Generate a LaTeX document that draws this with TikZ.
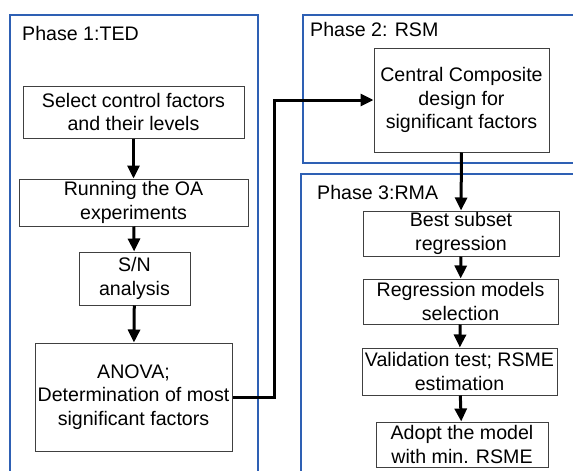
\documentclass[tikz,border=0pt]{standalone}
\usepackage{fontspec}
\setmainfont{Liberation Sans}
\usetikzlibrary{arrows.meta}
\definecolor{phaseblue}{RGB}{46,96,180}
\begin{document}
\begin{tikzpicture}[x=1pt,y=-1pt,
  frame/.style={draw=phaseblue,line width=2pt},
  stepbox/.style={draw=black!75,line width=1pt,align=center,inner sep=0pt,
    font=\fontsize{19.6}{23.5}\selectfont},
  flow/.style={line width=3pt,-{Triangle[length=13pt,width=12pt]}},
  title/.style={anchor=base west,inner sep=0pt,font=\fontsize{19.6}{23.5}\selectfont}]
\useasboundingbox (0,0) rectangle (573,471);
\clip (0,0) rectangle (573,471);
\fill[white] (0,0) rectangle (573,471);

% phase frames
\draw[frame] (10,15) rectangle (258,490);
\draw[frame] (303,15) rectangle (590,163);
\draw[frame] (301,174) rectangle (590,490);

\node[title] (t1) at (22,40) {Phase 1:TED};
\node[title] (t2) at (310,36) {Phase 2: RSM};
\node[title] (t3) at (317,199) {Phase 3:RMA};

% phase 1 steps
\node[stepbox,minimum width=221pt,minimum height=52pt] (n1) at (133.5,112)
  {Select control factors\\and their levels};
\node[stepbox,minimum width=229pt,minimum height=47pt] (n2) at (133.5,202.5)
  {Running the OA\\experiments};
\node[stepbox,minimum width=111pt,minimum height=53pt] (n3) at (134.5,278.5)
  {S/N\\analysis};
\node[stepbox,minimum width=197pt,minimum height=108pt] (n4) at (133.5,397)
  {ANOVA;\\Determination of most\\significant factors};

% phase 2 step
\node[stepbox,minimum width=175pt,minimum height=104pt] (n5) at (461.5,100)
  {Central Composite\\design for\\significant factors};

% phase 3 steps
\node[stepbox,minimum width=196pt,minimum height=45pt] (n6) at (461,233.5)
  {Best subset\\regression};
\node[stepbox,minimum width=195pt,minimum height=45pt] (n7) at (460.5,301.5)
  {Regression models\\selection};
\node[stepbox,minimum width=195pt,minimum height=47pt] (n8) at (459.5,371.5)
  {Validation test; RSME\\estimation};
\node[stepbox,minimum width=172pt,minimum height=45pt] (n9) at (462,444.5)
  {Adopt the model\\with min. RSME};

% connectors
\draw[flow] (n1) -- (n2);
\draw[flow] (n2) -- (n3);
\draw[flow] (n3) -- (n4);
\draw[flow] (n4.east) -- ++(42,0) |- (n5.west);
\draw[flow] (n5.south) -- (n6.north);
\draw[flow] (n6) -- (n7);
\draw[flow] (n7) -- (n8);
\draw[flow] (n8) -- (n9);
\end{tikzpicture}
\end{document}
